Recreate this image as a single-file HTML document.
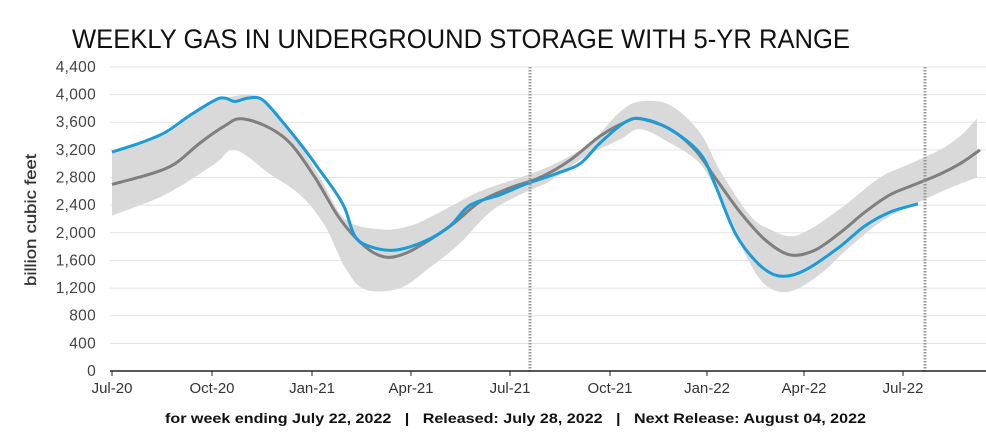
<!DOCTYPE html><html><head><style>
body{margin:0;background:#fff;width:986px;height:431px;overflow:hidden;font-family:"Liberation Sans",sans-serif}
</style></head><body>
<svg id="s" width="986" height="431" xmlns="http://www.w3.org/2000/svg">
<text x="72" y="48" font-size="27" fill="#111" font-family="Liberation Sans" textLength="778" lengthAdjust="spacingAndGlyphs">WEEKLY GAS IN UNDERGROUND STORAGE WITH 5-YR RANGE</text>
<g id="grid" stroke="#e3e3e3" stroke-width="1"></g>
<g id="yl" font-size="15.5" fill="#444" text-anchor="end" letter-spacing="0.3"></g>
<text transform="translate(36,220) rotate(-90)" font-size="16" fill="#333" text-anchor="middle" textLength="132" lengthAdjust="spacingAndGlyphs" stroke="#333" stroke-width="0.3">billion cubic feet</text>
<path id="band" fill="#d9d9d9"/>
<path id="avg" fill="none" stroke="#7f7f7f" stroke-width="3"/>
<path id="act" fill="none" stroke="#1b9bd7" stroke-width="3"/>
<line x1="530" y1="67" x2="530" y2="371" stroke="#999" stroke-width="3" stroke-dasharray="1.5,1.5"/>
<line x1="925" y1="67" x2="925" y2="371" stroke="#999" stroke-width="3" stroke-dasharray="1.5,1.5"/>
<line x1="110" y1="371" x2="986" y2="371" stroke="#222" stroke-width="1.5"/>
<g id="xl" font-size="15" fill="#333" text-anchor="middle"></g>
<text x="165" y="423" font-size="14" font-weight="bold" fill="#111" font-family="Liberation Sans" textLength="701" lengthAdjust="spacingAndGlyphs" xml:space="preserve">for week ending July 22, 2022   |   Released: July 28, 2022   |   Next Release: August 04, 2022</text>
</svg>
<script>
var Y=function(v){return 371-v*0.0691};
var g=document.getElementById('grid'),yl=document.getElementById('yl'),xl=document.getElementById('xl'),ns='http://www.w3.org/2000/svg';
for(var v=0;v<=4400;v+=400){var y=Y(v);
 if(v>0){var l=document.createElementNS(ns,'line');l.setAttribute('x1',110);l.setAttribute('x2',986);l.setAttribute('y1',y);l.setAttribute('y2',y);g.appendChild(l);}
 var t=document.createElementNS(ns,'text');t.setAttribute('x',96);t.setAttribute('y',y+5);t.textContent=v.toLocaleString('en-US');yl.appendChild(t);}
var xs=[112,212,312,411,510,610,707,804,903],lb=['Jul-20','Oct-20','Jan-21','Apr-21','Jul-21','Oct-21','Jan-22','Apr-22','Jul-22'];
xs.forEach(function(x,i){var l=document.createElementNS(ns,'line');l.setAttribute('x1',x);l.setAttribute('x2',x);l.setAttribute('y1',371);l.setAttribute('y2',376);l.setAttribute('stroke','#222');xl.appendChild(l);
 var t=document.createElementNS(ns,'text');t.setAttribute('x',x);t.setAttribute('y',393);t.textContent=lb[i];xl.appendChild(t);});
function S(a,move){var p=a.map(function(q){return [q[0],Y(q[1])]});var d=(move?'M':'L')+p[0][0]+','+p[0][1].toFixed(1);
 for(var i=0;i<p.length-1;i++){var p0=p[i-1]||p[i],p1=p[i],p2=p[i+1],p3=p[i+2]||p2;
  var c1=[p1[0]+(p2[0]-p0[0])/6,p1[1]+(p2[1]-p0[1])/6],c2=[p2[0]-(p3[0]-p1[0])/6,p2[1]-(p3[1]-p1[1])/6];
  d+='C'+c1[0].toFixed(1)+','+c1[1].toFixed(1)+' '+c2[0].toFixed(1)+','+c2[1].toFixed(1)+' '+p2[0]+','+p2[1].toFixed(1);}
 return d;}
var act=[[112,3170],[140,3300],[165,3450],[190,3700],[215,3920],[225,3950],[235,3900],[248,3950],[262,3930],[280,3650],[305,3200],[320,2900],[335,2600],[345,2350],[355,1950],[370,1800],[395,1750],[425,1880],[450,2100],[470,2400],[500,2550],[525,2700],[555,2850],[580,3000],[600,3300],[625,3600],[642,3650],[670,3500],[700,3150],[715,2700],[735,2000],[755,1600],[773,1400],[790,1380],[810,1500],[840,1800],[865,2100],[890,2300],[918,2420]];
var avg=[[112,2700],[150,2850],[175,3000],[200,3300],[225,3550],[240,3650],[265,3550],[290,3300],[315,2800],[340,2200],[365,1800],[385,1650],[405,1700],[430,1900],[455,2150],[480,2450],[510,2650],[540,2800],[570,3050],[600,3400],[625,3600],[640,3650],[670,3500],[695,3200],[715,2800],[740,2300],[765,1900],[790,1680],[815,1750],[840,2000],[865,2300],[890,2550],[915,2700],[940,2850],[960,3000],[980,3200]];
var up=[[112,3170],[165,3420],[200,3800],[228,3960],[260,3960],[290,3500],[320,2800],[345,2200],[380,2050],[410,2100],[440,2300],[480,2600],[520,2800],[555,3000],[590,3300],[620,3750],[640,3900],[670,3850],[700,3450],[720,2900],[750,2250],[770,2050],[790,1950],[810,2050],[845,2400],[880,2800],[910,3000],[940,3200],[960,3400],[977,3650]];
var lo=[[112,2250],[165,2550],[215,3000],[235,3200],[270,2850],[300,2550],[325,2100],[345,1500],[365,1180],[400,1200],[430,1500],[460,1850],[490,2300],[520,2550],[550,2750],[585,3100],[620,3350],[640,3500],[670,3300],[700,3000],[720,2500],[745,1700],[765,1250],[790,1150],[820,1400],[850,1800],[885,2200],[920,2450],[950,2650],[977,2800]];
document.getElementById('band').setAttribute('d',S(up,true)+S(lo.slice().reverse(),false)+'Z');
document.getElementById('avg').setAttribute('d',S(avg,true));
document.getElementById('act').setAttribute('d',S(act,true));
</script>
</body></html>
